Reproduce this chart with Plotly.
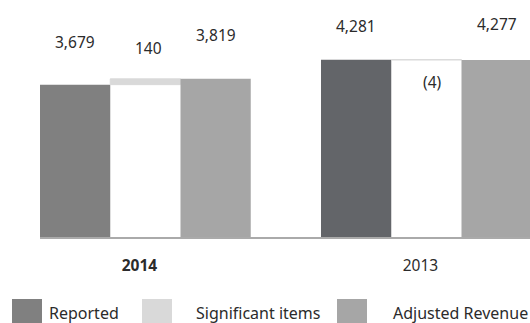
import plotly.graph_objects as go

# ---- data ----
years = ["2014", "2013"]
year_labels = ["<b>2014</b>", "2013"]
reported = [3679, 4281]
significant = [140, -4]
adjusted = [3819, 4277]
series_names = ["Reported", "Significant items", "Adjusted Revenue"]
sig_labels = ["140", "(4)"]

# ---- styles ----
reported_colors = ["#808080", "#636569"]
sig_color = "#d9d9d9"
adj_color = "#a6a6a6"
legend_colors = ["#808080", "#d9d9d9", "#a6a6a6"]
FONT = "Noto Sans"
TXT = "#2b2b2b"

W, H = 530, 323
ML, MR, MT, MB = 40, 0, 20, 86

fig = go.Figure()
fig.add_trace(go.Bar(x=years, y=reported, name=series_names[0],
                     marker=dict(color=reported_colors, line=dict(width=0)),
                     showlegend=False, hoverinfo="skip"))
fig.add_trace(go.Bar(x=years, y=significant, base=reported, name=series_names[1],
                     marker=dict(color=sig_color, line=dict(width=1, color=sig_color)),
                     showlegend=False, hoverinfo="skip"))
fig.add_trace(go.Bar(x=years, y=adjusted, name=series_names[2],
                     marker=dict(color=adj_color, line=dict(width=0)),
                     showlegend=False, hoverinfo="skip"))

bar_px = 70.25
annotations = []
fmt = lambda v: f"{v:,}"
label_specs = []
for i, yr in enumerate(years):
    label_specs.append((i, reported[i], fmt(reported[i]), -bar_px))
    label_specs.append((i, adjusted[i], fmt(adjusted[i]), bar_px))
yshifts = [43, 44, 34, 36]
for (xi, yv, t, xs), ys in zip(label_specs, yshifts):
    annotations.append(dict(x=xi, y=yv, text=t, xref="x", yref="y", xshift=xs,
                            yshift=ys, showarrow=False,
                            font=dict(family=FONT, size=15.5, color=TXT)))
sig_shifts = [(3, 31), (6, -22)]
for i, yr in enumerate(years):
    top = max(reported[i], reported[i] + significant[i])
    annotations.append(dict(x=i, y=top, text=sig_labels[i], xref="x", yref="y",
                            xshift=sig_shifts[i][0], yshift=sig_shifts[i][1],
                            showarrow=False,
                            font=dict(family=FONT, size=15.5, color=TXT)))

# manual legend (large swatches), pixel coordinates
pw, ph = W - ML - MR, H - MT - MB
def px2x(p):
    return (p - ML) / pw
def px2y(p):
    return (H - MB - p) / ph

shapes = []
sw_x = [12, 142, 337]
tx_x = [47, 194, 391]
for k in range(3):
    shapes.append(dict(type="rect", xref="paper", yref="paper",
                       x0=px2x(sw_x[k]), x1=px2x(sw_x[k] + 30),
                       y0=px2y(325), y1=px2y(299),
                       fillcolor=legend_colors[k], line=dict(width=0)))
    annotations.append(dict(x=px2x(tx_x[k]), y=px2y(313), xref="paper", yref="paper",
                            text=series_names[k], showarrow=False, xanchor="left",
                            yanchor="middle",
                            font=dict(family=FONT, size=16, color=TXT)))

x_right = -0.375 + pw / 281.0
fig.update_layout(
    width=W, height=H, margin=dict(l=ML, r=MR, t=MT, b=MB),
    barmode="group", bargap=0.25, bargroupgap=0,
    plot_bgcolor="white", paper_bgcolor="white",
    annotations=annotations, shapes=shapes,
    font=dict(family=FONT, size=15, color=TXT),
)
fig.update_xaxes(range=[-0.375, x_right], tickvals=years, ticktext=year_labels,
                 showline=True, linecolor="#aaaaaa", linewidth=2,
                 showgrid=False, ticks="", ticklabelstandoff=13, ticklabelshift=-6,
                 tickfont=dict(family=FONT, size=15.5, color=TXT))
fig.update_yaxes(range=[0, 5240], showticklabels=False, showline=False,
                 showgrid=False, zeroline=False, ticks="")

fig.write_html("out.html", config={"displayModeBar": False, "staticPlot": True},
               post_script="document.body.style.margin='0px';document.body.style.overflow='hidden';")
